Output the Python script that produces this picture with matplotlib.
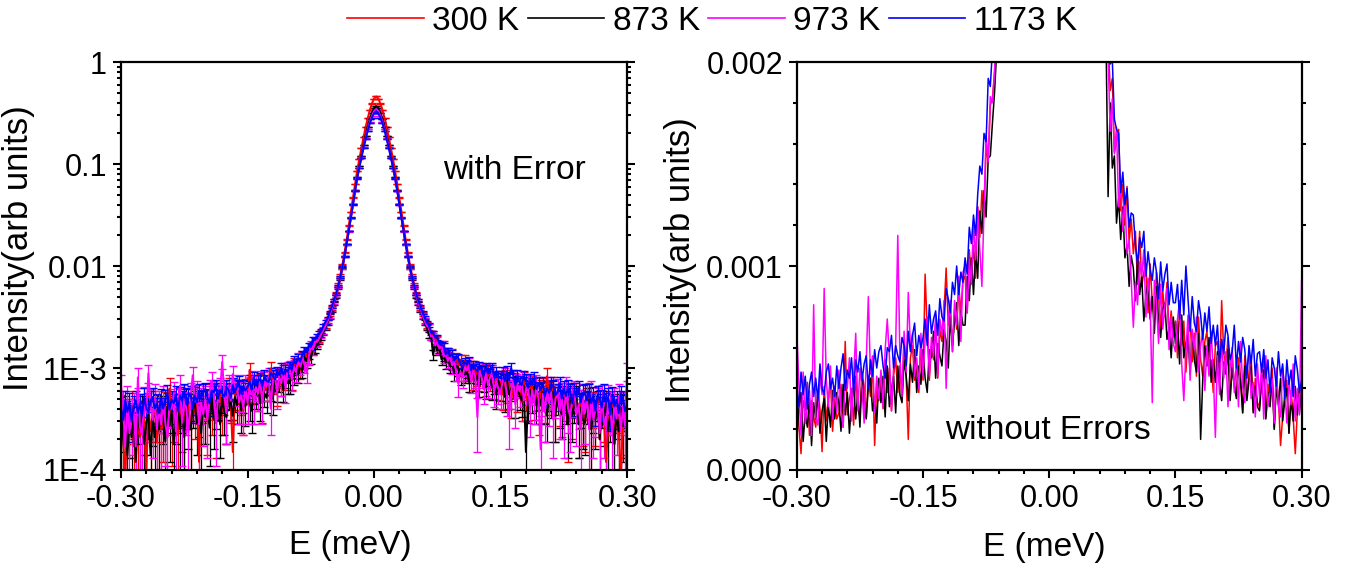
import numpy as np
import matplotlib
matplotlib.use('Agg')
import matplotlib.pyplot as plt
from matplotlib.ticker import FixedLocator, FixedFormatter, LogLocator, MultipleLocator, NullFormatter

plt.rcParams['font.family'] = ['Liberation Sans', 'DejaVu Sans']

# Energy grid (meV), 0.0025 meV steps
energy = np.linspace(-0.30, 0.30, 241)

# Intensities, in units of 1e-4 (arb units); 20 points per row
i_300 = [3.8, 2.1, 0.8, 3.4, 2.9, 4.3, 1.7, 3.4, 2.6, 2.1, 3.9, 3.0, 0.9, 4.1, 2.4, 3.5, 4.4, 1.9, 3.5, 2.5,
         2.8, 4.2, 2.1, 6.3, 2.7, 3.5, 4.0, 2.2, 4.6, 3.1, 2.6, 4.8, 4.1, 2.6, 4.6, 3.6, 5.2, 1.2, 4.4, 3.4,
         4.5, 3.0, 5.4, 3.8, 5.0, 2.9, 4.6, 5.5, 3.8, 5.1, 3.4, 6.3, 4.5, 1.5, 5.5, 6.1, 4.4, 5.1, 3.8, 6.2,
         4.4, 9.6, 6.9, 4.4, 6.1, 5.4, 7.1, 4.5, 6.9, 6.3, 7.8, 9.9, 7.1, 7.8, 5.8, 7.9, 6.9, 9.0, 7.7, 9.3,
         9.5, 7.7, 10.8, 9.4, 11.0, 9.4, 12.9, 11.4, 13.7, 12.4, 15.9, 15.1, 17.9, 18.2, 19.5, 21.8, 23.3, 26.3, 29.4, 34,
         39, 46, 54, 66, 82, 104, 136, 182, 250, 340, 470, 640, 860, 1120, 1430, 1830, 2300, 2820, 3380, 3920,
         4380, 4600, 4380, 3920, 3380, 2820, 2300, 1830, 1430, 1120, 860, 640, 470, 340, 250, 182, 136, 104, 82, 66,
         54, 46, 39, 34, 29.5, 26.5, 25.2, 20.5, 21.2, 18.6, 19.2, 15.6, 16.0, 16.7, 12.7, 14.0, 12.0, 13.9, 11.2, 12.3,
         10.6, 11.7, 9.1, 11.7, 9.0, 9.7, 10.1, 7.7, 10.1, 8.2, 7.5, 9.7, 8.6, 6.9, 8.8, 7.5, 9.2, 6.6, 7.8, 6.5,
         7.3, 5.5, 8.0, 6.1, 7.3, 4.8, 6.6, 7.4, 5.3, 6.7, 4.6, 7.5, 5.4, 4.6, 6.3, 6.8, 4.7, 5.4, 3.8, 6.1,
         6.3, 4.5, 8.3, 5.7, 5.1, 6.5, 3.5, 5.4, 4.3, 3.7, 5.5, 4.6, 2.8, 5.6, 3.6, 4.8, 5.6, 2.9, 4.5, 3.3,
         3.1, 4.7, 5.5, 2.6, 4.2, 3.3, 5.0, 2.0, 4.5, 3.5, 1.2, 2.6, 3.8, 4.4, 1.8, 3.9, 2.6, 0.8, 2.9, 4.2,
         3.0]
i_873 = [1.6, 3.0, 3.8, 1.4, 2.8, 2.1, 3.5, 1.2, 3.3, 2.5, 3.8, 1.8, 2.9, 3.5, 1.4, 3.2, 2.1, 3.9, 2.5, 3.8,
         3.3, 1.9, 4.2, 2.7, 3.8, 1.8, 3.3, 4.1, 2.5, 3.8, 2.1, 4.7, 3.1, 2.5, 4.1, 4.5, 2.9, 3.6, 2.3, 4.5,
         3.3, 4.6, 2.6, 5.1, 3.1, 4.0, 4.6, 2.8, 5.1, 3.7, 3.3, 5.4, 4.6, 3.4, 5.2, 4.3, 5.9, 3.8, 5.1, 4.2,
         5.9, 4.5, 3.8, 5.9, 5.5, 6.8, 4.5, 6.2, 5.6, 5.1, 6.9, 6.3, 5.0, 7.5, 6.1, 7.3, 8.2, 6.1, 7.8, 7.1,
         7.1, 9.5, 8.3, 10.4, 8.6, 10.7, 9.4, 12.7, 11.6, 13.7, 12.4, 15.3, 15.4, 17.0, 18.5, 20.5, 22.5, 25, 28, 32,
         37, 43, 50, 61, 75, 95, 123, 163, 220, 298, 405, 555, 740, 950, 1210, 1530, 1900, 2320, 2760, 3180,
         3530, 3700, 3530, 3180, 2760, 2320, 1900, 1530, 1210, 950, 740, 555, 405, 298, 220, 163, 123, 95, 75, 61,
         50, 43, 37, 32, 28, 25, 21.2, 21.3, 13.4, 18.0, 14.8, 15.4, 12.1, 13.3, 11.3, 12.9, 10.4, 11.0, 9.0, 10.5,
         9.9, 8.3, 10.3, 8.6, 9.5, 7.3, 8.6, 9.2, 7.4, 8.5, 6.7, 9.0, 7.3, 6.5, 7.9, 8.2, 6.4, 7.0, 5.5, 7.5,
         6.2, 7.3, 5.2, 7.6, 5.5, 6.2, 6.6, 4.7, 6.8, 5.4, 4.8, 6.7, 1.5, 4.4, 6.1, 5.1, 6.5, 4.3, 5.4, 4.3,
         5.8, 4.3, 3.4, 5.3, 4.7, 5.9, 3.4, 5.0, 4.1, 3.5, 5.1, 4.3, 2.8, 5.1, 3.4, 4.4, 5.1, 2.8, 4.1, 3.1,
         2.9, 4.3, 4.9, 2.5, 3.8, 3.1, 4.5, 2.0, 4.1, 3.2, 4.5, 2.4, 3.4, 4.0, 1.8, 3.5, 2.4, 4.1, 2.7, 3.9,
         2.8]
i_973 = [6.8, 4.1, 1.7, 4.8, 2.3, 3.2, 3.9, 1.7, 8.1, 2.6, 2.2, 4.7, 3.7, 8.9, 4.4, 3.1, 5.1, 2.5, 4.1, 2.8,
         4.9, 2.9, 2.1, 4.4, 4.0, 5.5, 2.4, 4.5, 6.7, 2.9, 5.0, 4.0, 2.3, 5.3, 8.5, 4.7, 5.6, 2.8, 4.6, 3.5,
         4.9, 3.1, 5.9, 7.4, 5.6, 2.9, 5.0, 6.1, 11.5, 5.6, 3.6, 6.8, 4.8, 8.7, 6.0, 6.7, 4.6, 5.5, 4.0, 6.7,
         4.6, 6.4, 7.5, 4.6, 6.5, 5.6, 7.6, 4.6, 7.4, 6.6, 8.3, 4.0, 7.5, 8.3, 5.8, 8.3, 7.1, 9.5, 6.3, 9.7,
         10.0, 7.7, 10.3, 9.1, 12.2, 10.3, 12.9, 10.8, 9.0, 12.8, 16.5, 15.1, 18.3, 18.0, 19.5, 21.5, 23.5, 26, 29, 33,
         38, 44, 51, 62, 76, 96, 123, 162, 218, 295, 400, 545, 720, 920, 1160, 1460, 1800, 2190, 2590, 2970,
         3300, 3450, 3300, 2970, 2590, 2190, 1800, 1460, 1160, 920, 720, 545, 400, 295, 218, 162, 123, 96, 76, 62,
         51, 44, 38, 33, 29, 26, 25.0, 20.5, 20.3, 16.6, 18.2, 15.5, 16.8, 12.9, 14.0, 11.7, 13.4, 10.6, 11.3, 9.3,
         7.0, 9.2, 8.1, 10.2, 9.5, 10.8, 7.5, 9.4, 8.2, 3.3, 9.3, 8.2, 6.2, 9.1, 6.9, 8.1, 8.9, 5.9, 7.5, 6.2,
         5.8, 7.4, 8.3, 5.2, 3.4, 5.8, 7.6, 4.4, 6.9, 5.9, 7.5, 4.8, 6.1, 6.7, 3.9, 6.1, 4.6, 6.8, 4.9, 1.6,
         5.6, 3.7, 6.4, 4.5, 5.8, 3.1, 5.0, 6.0, 3.8, 5.3, 3.1, 6.3, 4.1, 3.3, 5.1, 5.7, 3.5, 4.3, 2.6, 5.2,
         3.6, 5.1, 2.5, 5.6, 3.1, 3.9, 4.5, 2.3, 5.0, 3.1, 2.6, 5.0, 4.0, 2.3, 4.5, 3.2, 5.2, 2.4, 4.0, 2.7,
         9.3]
i_1173 = [4.1, 3.1, 4.8, 3.7, 4.6, 3.0, 4.2, 4.8, 3.6, 4.5, 3.4, 5.2, 4.0, 3.7, 4.8, 5.2, 4.0, 4.5, 3.6, 5.1,
          4.0, 5.0, 5.7, 3.9, 4.9, 4.5, 5.5, 3.8, 5.4, 4.8, 5.8, 4.4, 5.2, 5.6, 4.0, 5.4, 4.6, 5.9, 5.0, 5.8,
          6.1, 5.1, 4.5, 6.0, 5.8, 6.6, 5.0, 6.1, 5.6, 5.3, 6.5, 6.1, 5.1, 6.8, 5.8, 6.6, 7.2, 5.6, 6.6, 6.0,
          6.5, 7.4, 6.1, 8.1, 6.7, 7.4, 7.8, 6.6, 8.4, 7.5, 7.3, 8.9, 8.4, 7.7, 9.2, 8.6, 10.0, 8.6, 9.7, 9.2,
          10.4, 9.6, 11.9, 11.1, 12.5, 11.5, 13.5, 14.9, 14.5, 16.5, 16.1, 19.2, 18.8, 20.6, 21.9, 23.2, 26.0, 28.3, 30.6, 35.4,
          40, 46, 53, 64, 78, 98, 125, 165, 220, 295, 400, 545, 720, 920, 1150, 1430, 1750, 2120, 2500, 2850,
          3150, 3300, 3150, 2850, 2500, 2120, 1750, 1430, 1150, 920, 720, 545, 400, 295, 220, 165, 125, 98, 78, 64,
          53, 46, 40, 35, 31, 28, 26.4, 22.2, 22.1, 19.9, 20.1, 17.2, 16.7, 16.5, 13.6, 14.6, 13.0, 13.8, 11.9, 12.6,
          12.5, 11.0, 10.1, 11.4, 10.9, 11.7, 9.5, 10.7, 9.8, 9.3, 10.4, 9.7, 8.4, 10.2, 8.8, 9.6, 10.1, 8.1, 9.2, 8.2,
          8.2, 9.1, 7.4, 9.3, 7.6, 10.0, 8.4, 6.8, 8.5, 7.2, 6.8, 8.3, 7.6, 6.4, 7.7, 6.8, 8.0, 6.2, 7.1, 6.1,
          7.1, 5.3, 6.4, 5.7, 7.1, 6.6, 5.4, 5.8, 7.1, 5.0, 6.3, 5.3, 6.5, 5.9, 4.5, 6.1, 5.2, 6.4, 4.6, 5.7,
          5.8, 4.8, 5.9, 4.5, 5.4, 3.8, 5.5, 5.0, 4.1, 5.8, 4.6, 5.2, 3.5, 5.4, 4.2, 4.9, 3.6, 5.6, 4.9, 3.8,
          4.4]

labels = ['300 K', '873 K', '973 K', '1173 K']
colors = ['#ff0000', '#000000', '#ff00ff', '#0000ff']
# typical error bar half-length (arb units), read from the tails
err_abs = [1.6e-4, 1.5e-4, 1.8e-4, 1.1e-4]

series = [np.array(s) * 1e-4 for s in (i_300, i_873, i_973, i_1173)]

fig = plt.figure(figsize=(13.46, 5.69), dpi=100)
ax1 = fig.add_axes([0.0899, 0.174, 0.376, 0.717])
ax2 = fig.add_axes([0.592, 0.174, 0.375, 0.717])

# left: log scale with error bars
for y, c, lab, e in zip(series, colors, labels, err_abs):
    lower = np.minimum(e, 0.97 * y)
    ax1.errorbar(energy, y, yerr=[lower, np.full_like(y, e)], fmt='-', color=c,
                 lw=1.4, elinewidth=0.9, capsize=3.2, capthick=1.0, label=lab)
ax1.set_yscale('log')
ax1.set_ylim(1e-4, 1)
ax1.yaxis.set_major_locator(FixedLocator([1e-4, 1e-3, 1e-2, 0.1, 1]))
ax1.yaxis.set_major_formatter(FixedFormatter(['1E-4', '1E-3', '0.01', '0.1', '1']))
ax1.yaxis.set_minor_locator(LogLocator(base=10, subs=np.arange(2, 10)))
ax1.yaxis.set_minor_formatter(NullFormatter())
ax1.text(0.636, 0.735, 'with Error', transform=ax1.transAxes, fontsize=24,
         ha='left', va='center')

# right: linear zoom without errors
for y, c in zip(series, colors):
    ax2.plot(energy, y, color=c, lw=1.1)
ax2.set_ylim(0, 0.002)
ax2.yaxis.set_major_locator(FixedLocator([0, 0.001, 0.002]))
ax2.yaxis.set_major_formatter(FixedFormatter(['0.000', '0.001', '0.002']))
ax2.yaxis.set_minor_locator(MultipleLocator(0.0002))
ax2.text(0.294, 0.098, 'without Errors', transform=ax2.transAxes, fontsize=24,
         ha='left', va='center')

for ax in (ax1, ax2):
    ax.set_xlim(-0.30, 0.30)
    ax.xaxis.set_major_locator(FixedLocator([-0.30, -0.15, 0.0, 0.15, 0.30]))
    ax.xaxis.set_major_formatter(FixedFormatter(['-0.30', '-0.15', '0.00', '0.15', '0.30']))
    ax.xaxis.set_minor_locator(MultipleLocator(0.03))
    ax.set_xlabel('E (meV)', fontsize=24)
    ax.set_ylabel('Intensity(arb units)', fontsize=25)
    ax.tick_params(which='both', direction='out', right=True, top=False,
                   labelsize=22, width=1.5)
    ax.tick_params(which='major', length=6, pad=4)
    ax.tick_params(which='minor', length=3)
    for sp in ax.spines.values():
        sp.set_linewidth(1.6)

ax1.xaxis.set_label_coords(0.453, -0.147)
ax1.yaxis.set_label_coords(-0.170, 0.543)
ax2.xaxis.set_label_coords(0.490, -0.152)
ax2.yaxis.set_label_coords(-0.198, 0.515)

handles = [plt.Line2D([], [], color=c, lw=1.2) for c in colors]
fig.legend(handles, labels, loc='center', bbox_to_anchor=(0.529, 0.963), ncol=4,
           frameon=False, fontsize=24, handlelength=2.3, handletextpad=0.25,
           columnspacing=0.25, borderaxespad=0)

fig.savefig('out.png', dpi=100)
